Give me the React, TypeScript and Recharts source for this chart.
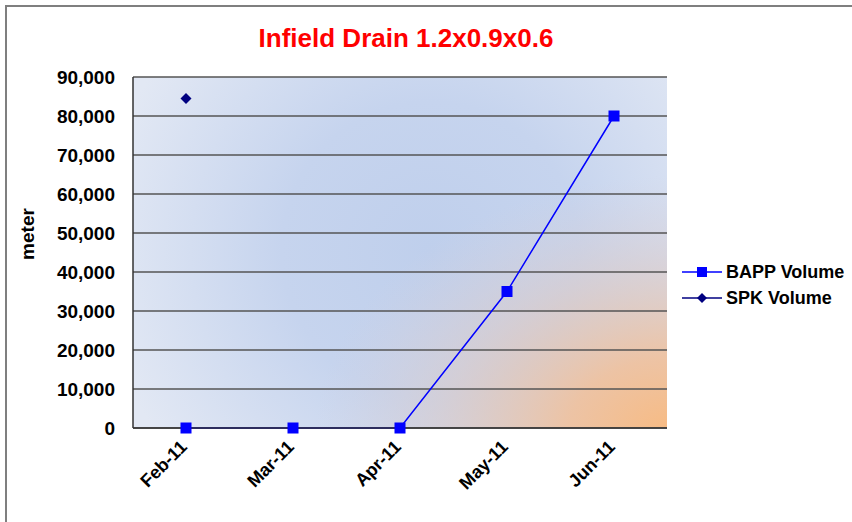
import { CartesianGrid, Line, LineChart, XAxis, YAxis } from "recharts";

const months = ["Feb-11", "Mar-11", "Apr-11", "May-11", "Jun-11"];
const bappVolume = [0, 0, 0, 35000, 80000];
const spkVolume: (number | null)[] = [84500, null, null, null, null];
const yTicks = [0, 10000, 20000, 30000, 40000, 50000, 60000, 70000, 80000, 90000];

const data = months.map((month, i) => ({
  month,
  bapp: bappVolume[i],
  spk: spkVolume[i],
}));

const FONT = "'Liberation Sans', Arial, sans-serif";

function SquareDot(props: any) {
  const { cx, cy } = props;
  if (cx == null || cy == null) return null;
  return <rect x={cx - 5.5} y={cy - 5.5} width={11} height={11} fill="#0000ff" />;
}

function DiamondDot(props: any) {
  const { cx, cy, value } = props;
  if (cx == null || cy == null || value == null) return null;
  return (
    <polygon
      points={`${cx},${cy - 5.5} ${cx + 5.5},${cy} ${cx},${cy + 5.5} ${cx - 5.5},${cy}`}
      fill="#000080"
    />
  );
}

function MonthTick(props: any) {
  const { x, y, payload } = props;
  return (
    <g transform={`translate(${x + 2},${y + 20})`}>
      <text
        x={0}
        y={0}
        textAnchor="end"
        transform="rotate(-45)"
        fontFamily={FONT}
        fontWeight="bold"
        fontSize={18}
        fill="#000"
      >
        {payload.value}
      </text>
    </g>
  );
}

function ChartLegend() {
  const row = { display: "flex", alignItems: "center", height: 26 } as const;
  const label = {
    fontFamily: FONT,
    fontWeight: "bold" as const,
    fontSize: 18,
    color: "#000",
    marginLeft: 4,
  };
  return (
    <div style={{ position: "absolute", left: 682, top: 259 }}>
      <div style={row}>
        <svg width={40} height={12}>
          <line x1={0} y1={6} x2={40} y2={6} stroke="#0000ff" strokeWidth={1.5} />
          <rect x={15} y={1} width={10} height={10} fill="#0000ff" />
        </svg>
        <span style={label}>BAPP Volume</span>
      </div>
      <div style={row}>
        <svg width={40} height={12}>
          <line x1={0} y1={6} x2={40} y2={6} stroke="#000080" strokeWidth={1.5} />
          <polygon points="20,1 25,6 20,11 15,6" fill="#000080" />
        </svg>
        <span style={label}>SPK Volume</span>
      </div>
    </div>
  );
}

export default function App() {
  return (
    <div
      style={{
        position: "absolute",
        left: 0,
        top: 0,
        width: 852,
        height: 522,
        background: "#fff",
        overflow: "hidden",
      }}
    >
      <div
        style={{
          position: "absolute",
          left: 5,
          top: 5,
          width: 860,
          height: 530,
          borderTop: "2px solid #7f7f7f",
          borderLeft: "2px solid #7f7f7f",
        }}
      />
      <div
        style={{
          position: "absolute",
          left: 206,
          top: 24,
          width: 400,
          textAlign: "center",
          fontFamily: FONT,
          fontWeight: "bold",
          fontSize: 26,
          lineHeight: "28px",
          color: "#ff0000",
        }}
      >
        Infield Drain 1.2x0.9x0.6
      </div>
      <div style={{ position: "absolute", left: 0, top: 0 }}>
        <LineChart
          width={852}
          height={522}
          data={data}
          margin={{ top: 77, right: 185, bottom: 14, left: 8 }}
        >
          <defs>
            <radialGradient
              id="blueGlow"
              gradientUnits="userSpaceOnUse"
              cx={430}
              cy={250}
              r={330}
            >
              <stop offset="0" stopColor="#bfcfec" />
              <stop offset="0.45" stopColor="#c6d4ee" />
              <stop offset="1" stopColor="#e2e8f4" />
            </radialGradient>
            <radialGradient
              id="orangeGlow"
              gradientUnits="userSpaceOnUse"
              cx={675}
              cy={435}
              r={360}
              gradientTransform="translate(675 435) scale(1 0.72) translate(-675 -435)"
            >
              <stop offset="0" stopColor="#f8ba80" stopOpacity={1} />
              <stop offset="0.3" stopColor="#efc19e" stopOpacity={0.92} />
              <stop offset="0.65" stopColor="#dccbc8" stopOpacity={0.6} />
              <stop offset="1" stopColor="#d4cfdc" stopOpacity={0} />
            </radialGradient>
            <pattern
              id="plotBg"
              patternUnits="userSpaceOnUse"
              x={0}
              y={0}
              width={852}
              height={522}
            >
              <rect x={0} y={0} width={852} height={522} fill="url(#blueGlow)" />
              <rect x={0} y={0} width={852} height={522} fill="url(#orangeGlow)" />
            </pattern>
          </defs>
          <CartesianGrid
            vertical={false}
            stroke="#555"
            strokeWidth={1.5}
            fill="url(#plotBg)"
            fillOpacity={1}
          />
          <XAxis
            dataKey="month"
            height={80}
            interval={0}
            padding={{ left: 53, right: 53 }}
            tickLine={false}
            tickSize={0}
            tickMargin={0}
            axisLine={{ stroke: "#333", strokeWidth: 1.5 }}
            tick={<MonthTick />}
          />
          <YAxis
            width={125}
            domain={[0, 90000]}
            ticks={yTicks}
            interval={0}
            tickLine={false}
            tickSize={0}
            tickMargin={18}
            axisLine={{ stroke: "#333", strokeWidth: 1.5 }}
            tickFormatter={(v: number) => v.toLocaleString("en-US")}
            tick={{
              fontFamily: FONT,
              fontWeight: "bold",
              fontSize: 19,
              fill: "#000",
            }}
            label={{
              content: () => (
                <text
                  x={27}
                  y={234}
                  transform="rotate(-90, 27, 234)"
                  textAnchor="middle"
                  dominantBaseline="central"
                  fontFamily={FONT}
                  fontWeight="bold"
                  fontSize={19}
                  fill="#000"
                >
                  meter
                </text>
              ),
            }}
          />
          <YAxis
            yAxisId="frame"
            orientation="right"
            width={0}
            domain={[0, 90000]}
            tick={false}
            tickLine={false}
            axisLine={{ stroke: "#8a8a8a", strokeWidth: 1.5 }}
          />
          <Line
            type="linear"
            dataKey="bapp"
            name="BAPP Volume"
            stroke="#0000ff"
            strokeWidth={1.5}
            dot={<SquareDot />}
            activeDot={false}
            isAnimationActive={false}
          />
          <Line
            type="linear"
            dataKey="spk"
            name="SPK Volume"
            stroke="#000080"
            strokeWidth={1.5}
            dot={<DiamondDot />}
            activeDot={false}
            isAnimationActive={false}
          />
        </LineChart>
      </div>
      <ChartLegend />
    </div>
  );
}
